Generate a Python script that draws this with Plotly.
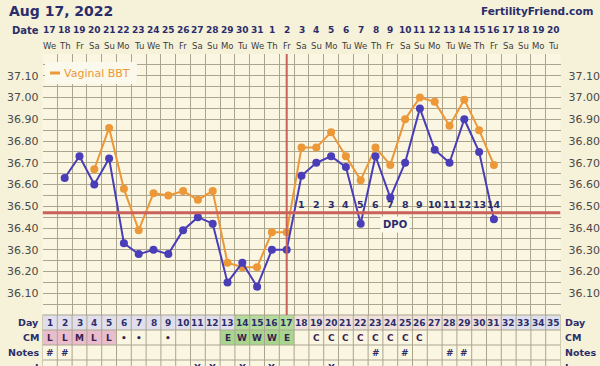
import plotly.graph_objects as go

# ---------------- data ----------------
days = list(range(1, 36))
date_labels = [str(d) for d in range(17, 32)] + [str(d) for d in range(1, 21)]
dow_cycle = ["We", "Th", "Fr", "Sa", "Su", "Mo", "Tu"]
dow_labels = [dow_cycle[i % 7] for i in range(35)]

bbt_days = list(range(2, 32))
bbt_temps = [36.63, 36.73, 36.60, 36.72, 36.33, 36.28, 36.30, 36.28, 36.39, 36.45,
             36.42, 36.15, 36.24, 36.13, 36.30, 36.30, 36.64, 36.70, 36.73, 36.68,
             36.42, 36.73, 36.54, 36.70, 36.95, 36.76, 36.70, 36.90, 36.75, 36.44]

vag_days = list(range(4, 32))
vag_temps = [36.67, 36.86, 36.58, 36.39, 36.56, 36.55, 36.57, 36.53, 36.57, 36.24,
             36.22, 36.22, 36.38, 36.38, 36.77, 36.77, 36.84, 36.73, 36.62, 36.77,
             36.69, 36.90, 37.00, 36.98, 36.87, 36.99, 36.85, 36.69]

coverline = 36.47
ovulation_day = 17
dpo_days = list(range(18, 32))
dpo_labels = [str(i) for i in range(1, 15)]

cm_days = [1, 2, 3, 4, 5, 6, 7, 9, 13, 14, 15, 16, 17, 19, 20, 21, 22, 23, 24, 25, 26]
cm_labels = ["L", "L", "M", "L", "L", "•", "•", "•", "E", "W", "W", "W", "E",
             "C", "C", "C", "C", "C", "C", "C", "C"]
notes_days = [1, 2, 23, 25, 28, 29]
i_days = [11, 12, 14, 16, 20]

ytick_vals = [36.10, 36.20, 36.30, 36.40, 36.50, 36.60, 36.70, 36.80, 36.90, 37.00, 37.10]

# ---------------- styling ----------------
W, H = 600, 366
X0, X1 = 42.5, 560.5          # plot left/right in px
Y_TOP, Y_BOT = 54.0, 315.0    # plot top/bottom in px
ROW_H = 15.0
NAVY = "#2B2D6B"
GRID = "#ABA58E"
BLUE = "#4A3DB8"
ORANGE = "#EC9838"
RED = "#C8625A"
FONT = "DejaVu Sans"


def px(x):
    return x / W


def py(y):
    return 1 - y / H


fig = go.Figure()

fig.add_trace(go.Scatter(
    x=vag_days, y=vag_temps, mode="lines+markers",
    line=dict(color=ORANGE, width=2), marker=dict(color=ORANGE, size=8),
    showlegend=False, hoverinfo="skip"))
fig.add_trace(go.Scatter(
    x=bbt_days, y=bbt_temps, mode="lines+markers",
    line=dict(color=BLUE, width=2), marker=dict(color=BLUE, size=8),
    showlegend=False, hoverinfo="skip"))
# invisible trace for right axis
fig.add_trace(go.Scatter(x=[days[0]], y=[ytick_vals[0]], yaxis="y2",
                         mode="markers", marker=dict(opacity=0),
                         showlegend=False, hoverinfo="skip"))

shapes = []
annotations = []


def ann(text, x, y, xref, yref, size, color, xanchor="center", **kw):
    d = dict(text=text, x=x, y=y, xref=xref, yref=yref, xanchor=xanchor, yanchor="middle",
             showarrow=False, font=dict(family=FONT, size=size, color=color))
    d.update(kw)
    annotations.append(d)


# cover line and ovulation line
shapes.append(dict(type="line", xref="x", yref="y", x0=0.5, x1=35.5,
                   y0=coverline, y1=coverline, line=dict(color=RED, width=3), layer="above"))
shapes.append(dict(type="line", xref="x", yref="y", x0=ovulation_day, x1=ovulation_day,
                   y0=36.0, y1=37.2, line=dict(color=RED, width=2), layer="above"))

# legend box
shapes.append(dict(type="rect", xref="paper", yref="paper", x0=px(45), x1=px(137),
                   y0=py(84), y1=py(62), fillcolor="#FBF9EC", line=dict(width=0), layer="above"))
shapes.append(dict(type="line", xref="paper", yref="paper", x0=px(50), x1=px(60),
                   y0=py(73), y1=py(73), line=dict(color=ORANGE, width=3), layer="above"))
ann("Vaginal BBT", px(62), py(73), "paper", "paper", 11, ORANGE, xanchor="left")

# DPO numbers
for d, lab in zip(dpo_days, dpo_labels):
    ann("<b>%s</b>" % lab, d, 36.51, "x", "y", 9.5, NAVY)
ann("<b>DPO</b>", 24.3, 36.418, "x", "y", 10, NAVY, bgcolor="#FBF8EA", borderpad=2)

# header
ann("<b>Aug 17, 2022</b>", px(7), py(11), "paper", "paper", 14, NAVY, xanchor="left")
ann("<b>FertilityFriend.com</b>", px(596), py(11), "paper", "paper", 10.5, NAVY, xanchor="right")
ann("<b>Date</b>", px(41), py(31), "paper", "paper", 10, NAVY, xanchor="right")
for d, dl, wl in zip(days, date_labels, dow_labels):
    ann("<b>%s</b>" % dl, d, py(30), "x", "paper", 9, NAVY)
    ann(wl, d, py(46), "x", "paper", 8.5, "#3C3C3C")

# table rows
rows = ["Day", "CM", "Notes", "I"]
row_tops = [Y_BOT + i * ROW_H for i in range(5)]


def cell_rect(d0, d1, r, color):
    shapes.append(dict(type="rect", xref="x", yref="paper", x0=d0 - 0.5, x1=d1 + 0.5,
                       y0=py(row_tops[r + 1]), y1=py(row_tops[r]), fillcolor=color,
                       line=dict(width=0), layer="below"))


# table background
shapes.append(dict(type="rect", xref="x", yref="paper", x0=0.5, x1=35.5,
                   y0=py(row_tops[4]), y1=py(row_tops[0]), fillcolor="#FAF6E1",
                   line=dict(width=0), layer="below"))
cell_rect(1, 13, 0, "#E2DFEC")
cell_rect(14, 17, 0, "#B3DB9C")
cell_rect(18, 31, 0, "#F0E1DC")
cell_rect(32, 35, 0, "#DFE0EE")
cell_rect(1, 5, 1, "#E9BDCB")
cell_rect(13, 17, 1, "#A9D68E")

for yy in row_tops:
    shapes.append(dict(type="line", xref="x", yref="paper", x0=0.5, x1=35.5,
                       y0=py(yy), y1=py(yy), line=dict(color=GRID, width=1), layer="below"))
for i in range(36):
    xv = 0.5 + i
    shapes.append(dict(type="line", xref="x", yref="paper", x0=xv, x1=xv,
                       y0=py(row_tops[4]), y1=py(row_tops[0]),
                       line=dict(color=GRID, width=1), layer="below"))

for r, lab in enumerate(rows):
    yc = py(row_tops[r] + ROW_H / 2)
    ann("<b>%s</b>" % lab, px(41), yc, "paper", "paper", 9.5, NAVY, xanchor="right")
    ann("<b>%s</b>" % lab, px(563), yc, "paper", "paper", 9.5, NAVY, xanchor="left")

for d in days:
    ann("<b>%d</b>" % d, d, py(row_tops[0] + ROW_H / 2), "x", "paper", 9, NAVY)
for d, lab in zip(cm_days, cm_labels):
    ann("<b>%s</b>" % lab, d, py(row_tops[1] + ROW_H / 2), "x", "paper", 9, "#3A2250")
for d in notes_days:
    ann("<b><i>#</i></b>", d, py(row_tops[2] + ROW_H / 2), "x", "paper", 9, NAVY)
for d in i_days:
    ann("<b>X</b>", d, py(row_tops[3] + ROW_H / 2), "x", "paper", 9, NAVY)

# y-axis grid every 0.05 with labels every 0.1
grid_vals = [round(36.0 + 0.05 * i, 2) for i in range(25)]
grid_text = ["%.2f" % v if any(abs(v - t) < 1e-6 for t in ytick_vals) else "" for v in grid_vals]

yd = [py(Y_BOT), py(Y_TOP)]
fig.update_layout(
    width=W, height=H, margin=dict(l=0, r=0, t=0, b=0),
    paper_bgcolor="#F6F1D9", plot_bgcolor="#FAF6E1",
    showlegend=False,
    xaxis=dict(domain=[px(X0), px(X1)], range=[0.5, 35.5], tickvals=[0.5 + i for i in range(36)],
               showticklabels=False, showgrid=True, gridcolor=GRID, gridwidth=1,
               zeroline=False, showline=False, ticks="", fixedrange=True),
    yaxis=dict(domain=yd, range=[36.0, 37.2], tickvals=grid_vals, ticktext=grid_text,
               showgrid=True, gridcolor=GRID, gridwidth=1, zeroline=False, ticks="",
               ticklabelstandoff=3,
               tickfont=dict(family=FONT, size=11, color="#4A4A4A")),
    yaxis2=dict(domain=yd, range=[36.0, 37.2], tickvals=ytick_vals,
                ticktext=["%.2f" % v for v in ytick_vals], overlaying="y", side="right",
                showgrid=False, zeroline=False, ticks="", ticklabelstandoff=7,
                tickfont=dict(family=FONT, size=11, color="#4A4A4A")),
    shapes=shapes, annotations=annotations,
)

fig.write_html("out.html", config={"displayModeBar": False},
               post_script="document.body.style.margin='0';document.body.style.padding='0';")
